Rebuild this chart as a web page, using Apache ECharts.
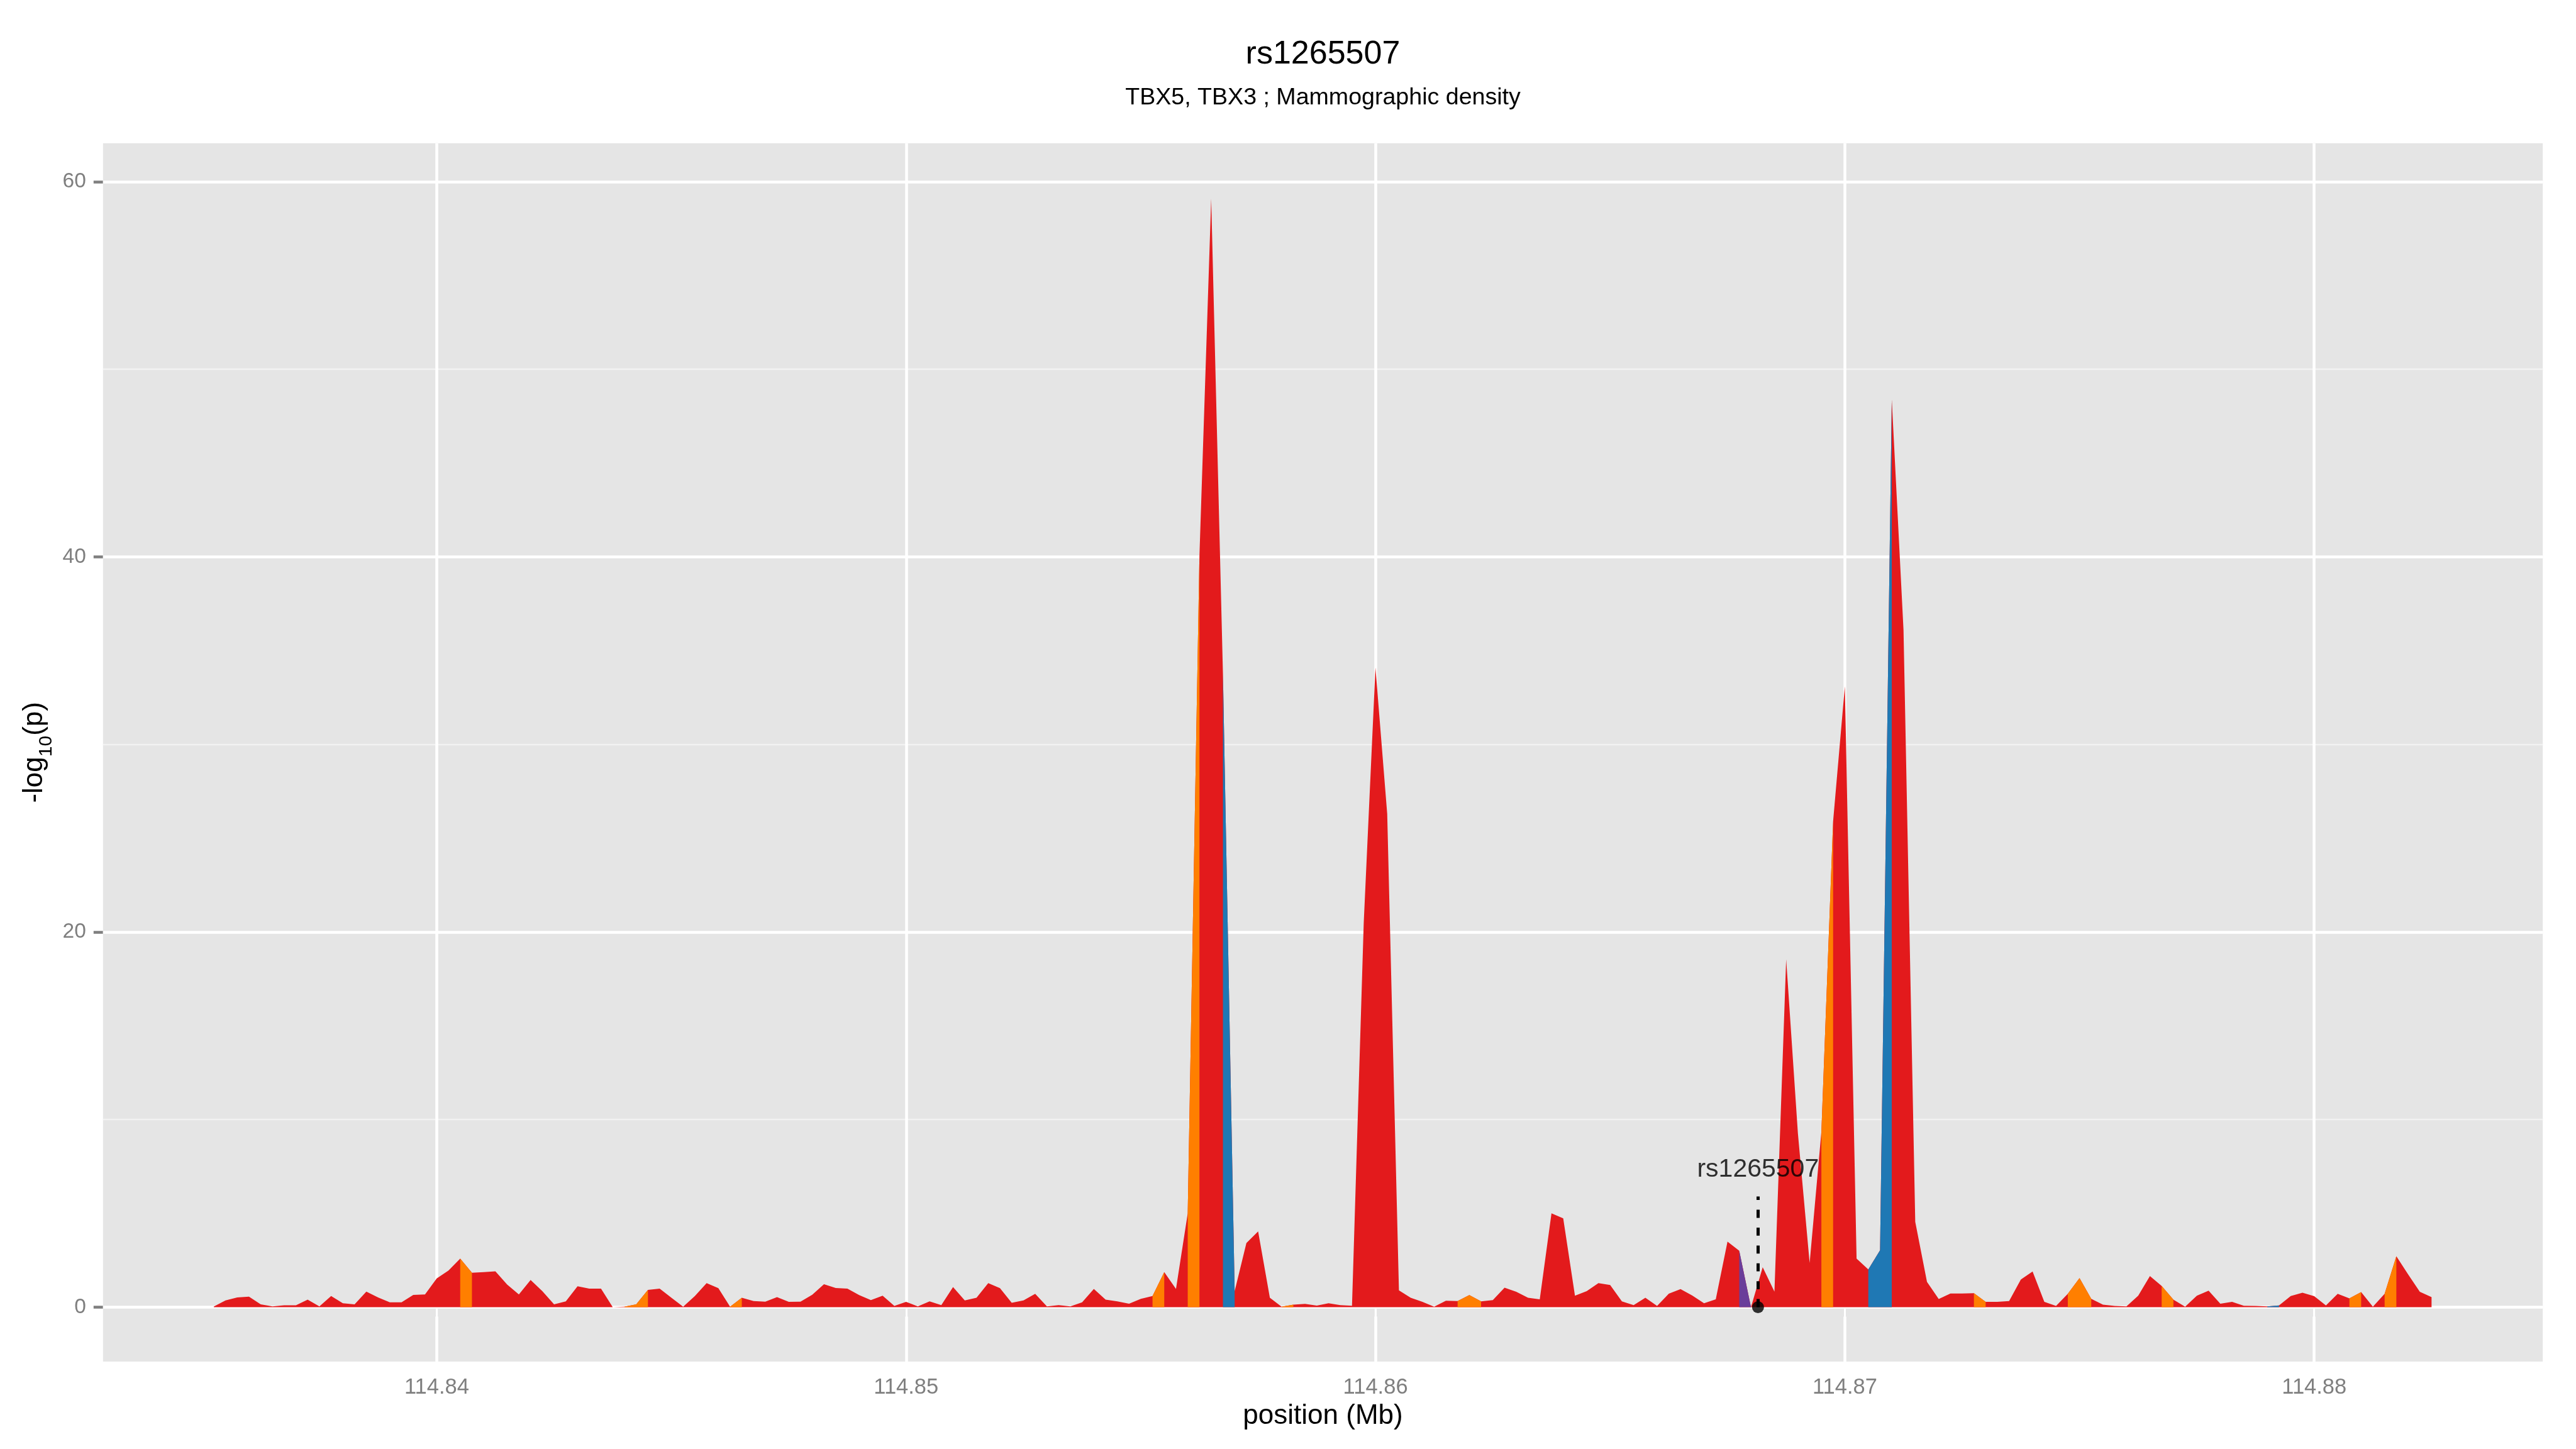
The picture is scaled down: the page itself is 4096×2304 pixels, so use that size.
<!DOCTYPE html>
<html>
<head>
<meta charset="utf-8">
<script src="https://cdn.jsdelivr.net/npm/echarts@6.0.0/dist/echarts.min.js"></script>
<style>
  html, body { margin: 0; padding: 0; background: #fff; }
  #chart { width: 4096px; height: 2304px; }
</style>
</head>
<body>
<div id="chart"></div>
<script>
// SNP positions (Mb), 250 bp apart
const posMb = [
  114.83525, 114.8355, 114.83575,
  114.836, 114.83625, 114.8365, 114.83675,
  114.837, 114.83725, 114.8375, 114.83775,
  114.838, 114.83825, 114.8385, 114.83875,
  114.839, 114.83925, 114.8395, 114.83975,
  114.840, 114.84025, 114.8405, 114.84075,
  114.841, 114.84125, 114.8415, 114.84175,
  114.842, 114.84225, 114.8425, 114.84275,
  114.843, 114.84325, 114.8435, 114.84375,
  114.844, 114.84425, 114.8445, 114.84475,
  114.845, 114.84525, 114.8455, 114.84575,
  114.846, 114.84625, 114.8465, 114.84675,
  114.847, 114.84725, 114.8475, 114.84775,
  114.848, 114.84825, 114.8485, 114.84875,
  114.849, 114.84925, 114.8495, 114.84975,
  114.850, 114.85025, 114.8505, 114.85075,
  114.851, 114.85125, 114.8515, 114.85175,
  114.852, 114.85225, 114.8525, 114.85275,
  114.853, 114.85325, 114.8535, 114.85375,
  114.854, 114.85425, 114.8545, 114.85475,
  114.855, 114.85525, 114.8555, 114.85575,
  114.856, 114.85625, 114.8565, 114.85675,
  114.857, 114.85725, 114.8575, 114.85775,
  114.858, 114.85825, 114.8585, 114.85875,
  114.859, 114.85925, 114.8595, 114.85975,
  114.860, 114.86025, 114.8605, 114.86075,
  114.861, 114.86125, 114.8615, 114.86175,
  114.862, 114.86225, 114.8625, 114.86275,
  114.863, 114.86325, 114.8635, 114.86375,
  114.864, 114.86425, 114.8645, 114.86475,
  114.865, 114.86525, 114.8655, 114.86575,
  114.866, 114.86625, 114.8665, 114.86675,
  114.867, 114.86725, 114.8675, 114.86775,
  114.868, 114.86825, 114.8685, 114.86875,
  114.869, 114.86925, 114.8695, 114.86975,
  114.870, 114.87025, 114.8705, 114.87075,
  114.871, 114.87125, 114.8715, 114.87175,
  114.872, 114.87225, 114.8725, 114.87275,
  114.873, 114.87325, 114.8735, 114.87375,
  114.874, 114.87425, 114.8745, 114.87475,
  114.875, 114.87525, 114.8755, 114.87575,
  114.876, 114.87625, 114.8765, 114.87675,
  114.877, 114.87725, 114.8775, 114.87775,
  114.878, 114.87825, 114.8785, 114.87875,
  114.879, 114.87925, 114.8795, 114.87975,
  114.880, 114.88025, 114.8805, 114.88075,
  114.881, 114.88125, 114.8815, 114.88175,
  114.882, 114.88225, 114.8825
];

// -log10(p) at each position
const logP = [
  0.03, 0.36, 0.52,
  0.56, 0.15, 0.04, 0.10,
  0.10, 0.40, 0.04, 0.59,
  0.21, 0.15, 0.83, 0.52,
  0.26, 0.26, 0.65, 0.68,
  1.53, 1.95, 2.59, 1.83,
  1.87, 1.91, 1.20, 0.68,
  1.45, 0.85, 0.15, 0.31,
  1.11, 0.99, 0.99, 0.00,
  0.02, 0.15, 0.92, 0.99,
  0.50, 0.02, 0.59, 1.28,
  1.01, 0.02, 0.50, 0.32,
  0.29, 0.53, 0.28, 0.29,
  0.66, 1.22, 1.02, 0.99,
  0.64, 0.37, 0.61, 0.06,
  0.28, 0.04, 0.31, 0.11,
  1.07, 0.36, 0.50, 1.28,
  1.01, 0.23, 0.36, 0.71,
  0.04, 0.11, 0.04, 0.26,
  0.97, 0.40, 0.31, 0.18,
  0.44, 0.59, 1.87, 0.97,
  5.00, 40.1, 59.1, 33.8,
  0.85, 3.42, 4.04, 0.50,
  0.02, 0.13, 0.17, 0.08,
  0.21, 0.11, 0.07, 20.5,
  34.1, 26.3, 0.89, 0.50,
  0.28, 0.02, 0.34, 0.32,
  0.64, 0.31, 0.37, 1.04,
  0.82, 0.50, 0.42, 5.00,
  4.73, 0.61, 0.85, 1.28,
  1.18, 0.31, 0.11, 0.50,
  0.06, 0.72, 0.96, 0.62,
  0.21, 0.42, 3.49, 3.01,
  0.00, 2.13, 0.83, 18.55,
  9.27, 2.35, 9.34, 25.9,
  33.1, 2.59, 2.01, 3.03,
  48.4, 36.1, 4.55, 1.35,
  0.43, 0.73, 0.73, 0.74,
  0.28, 0.28, 0.32, 1.47,
  1.90, 0.28, 0.06, 0.71,
  1.55, 0.44, 0.13, 0.06,
  0.04, 0.61, 1.66, 1.13,
  0.40, 0.02, 0.61, 0.88,
  0.18, 0.28, 0.07, 0.06,
  0.04, 0.09, 0.59, 0.77,
  0.58, 0.09, 0.71, 0.47,
  0.80, 0.02, 0.71, 2.71,
  1.75, 0.82, 0.53
];

// LD bins: index of the point where each coloured stretch starts (rest is red)
const ldOrange = [21, 35, 36, 44, 80, 83, 91, 106, 107, 137, 150, 158, 159, 166, 182, 185];
const ldBlue = [86, 141, 142, 175];
const ldPurple = [130];

const snpName = 'rs1265507';
const snpPos = 114.86815;
const snpLineTop = 5.9;
const snpLabelY = 7.35;

const xTicks = [114.84, 114.85, 114.86, 114.87, 114.88];
const xMinor = [114.835, 114.845, 114.855, 114.865, 114.875];
const yTicks = [0, 20, 40, 60];
const yMinor = [10, 30, 50];

const RED = '#E31A1C', ORANGE = '#FF7F00', BLUE = '#1F78B4', PURPLE = '#6A3D9A';
const FONT = 'Liberation Sans';

function stretch(starts) {
  let out = [];
  starts.forEach((k, i) => {
    let joined = i > 0 && starts[i - 1] === k - 1;
    if (!joined) {
      if (i > 0) out.push([posMb[k], '-']);
      out.push([posMb[k], logP[k]]);
    }
    out.push([posMb[k + 1], logP[k + 1]]);
  });
  return out;
}

function areaSeries(name, data, color, z) {
  return {
    name: name,
    type: 'line',
    data: data,
    symbol: 'none',
    z: z,
    lineStyle: { width: 0, opacity: 0 },
    areaStyle: { color: color, opacity: 1 },
    emphasis: { disabled: true },
    silent: true
  };
}

let gridLines = [];
xMinor.forEach(v => gridLines.push({ xAxis: v, lineStyle: { color: '#F2F2F2', width: 2.3, type: 'solid' } }));
yMinor.forEach(v => gridLines.push({ yAxis: v, lineStyle: { color: '#F2F2F2', width: 2.3, type: 'solid' } }));
xTicks.forEach(v => gridLines.push({ xAxis: v, lineStyle: { color: '#FFFFFF', width: 4.5, type: 'solid' } }));
yTicks.forEach(v => gridLines.push({ yAxis: v, lineStyle: { color: '#FFFFFF', width: 4.5, type: 'solid' } }));

let red = areaSeries('r2 < 0.2', posMb.map((x, i) => [x, logP[i]]), RED, 2);
red.markLine = {
  z: 1,
  silent: true,
  animation: false,
  symbol: ['none', 'none'],
  label: { show: false },
  emphasis: { disabled: true },
  data: gridLines
};

let option = {
  animation: false,
  backgroundColor: '#FFFFFF',
  textStyle: { fontFamily: FONT },
  title: [
    {
      text: snpName,
      left: 2103.5,
      top: 61,
      textAlign: 'center',
      padding: 0,
      textStyle: { fontSize: 52, fontWeight: 'normal', color: '#000', fontFamily: FONT }
    },
    {
      text: 'TBX5, TBX3 ; Mammographic density',
      left: 2103.5,
      top: 137,
      textAlign: 'center',
      padding: 0,
      textStyle: { fontSize: 37.6, fontWeight: 'normal', color: '#000', fontFamily: FONT }
    }
  ],
  grid: {
    left: 163.8,
    right: 52.8,
    top: 227.8,
    bottom: 139.1,
    show: true,
    backgroundColor: '#E5E5E5',
    borderWidth: 0,
    containLabel: false
  },
  xAxis: {
    type: 'value',
    min: 114.83289,
    max: 114.88487,
    name: 'position (Mb)',
    nameLocation: 'middle',
    nameGap: 65,
    nameTextStyle: { fontSize: 44, color: '#000', fontFamily: FONT },
    axisLine: { show: false },
    splitLine: { show: false },
    axisTick: {
      show: true,
      customValues: xTicks,
      length: 15,
      lineStyle: { color: '#7F7F7F', width: 4.5 }
    },
    axisLabel: {
      customValues: xTicks,
      formatter: v => v.toFixed(2),
      fontSize: 34.5,
      color: '#7F7F7F',
      margin: 24
    }
  },
  yAxis: {
    type: 'value',
    min: -2.9,
    max: 62.05,
    name: '{m|-log}{s|10}{m|(p)}',
    nameLocation: 'middle',
    nameRotate: 90,
    nameGap: 70,
    nameTextStyle: {
      rich: {
        m: { fontSize: 44, lineHeight: 56, verticalAlign: 'top', color: '#000', fontFamily: FONT },
        s: { fontSize: 30, lineHeight: 30, verticalAlign: 'bottom', color: '#000', fontFamily: FONT }
      }
    },
    axisLine: { show: false },
    splitLine: { show: false },
    axisTick: {
      show: true,
      customValues: yTicks,
      length: 15,
      lineStyle: { color: '#7F7F7F', width: 4.5 }
    },
    axisLabel: {
      customValues: yTicks,
      fontSize: 33.5,
      color: '#7F7F7F',
      margin: 27
    }
  },
  series: [
    red,
    areaSeries('0.2-0.5', stretch(ldOrange), ORANGE, 3),
    areaSeries('0.5-0.8', stretch(ldBlue), BLUE, 3),
    areaSeries('index', stretch(ldPurple), PURPLE, 3),
    {
      name: snpName,
      type: 'scatter',
      data: [[snpPos, 0]],
      symbol: 'circle',
      symbolSize: 19,
      itemStyle: { color: '#000' },
      z: 5,
      silent: true,
      markLine: {
        z: 4,
        silent: true,
        animation: false,
        symbol: ['none', 'none'],
        label: { show: false },
        emphasis: { disabled: true },
        lineStyle: { color: '#000', width: 5, type: [12.8, 15.6] },
        data: [[{ coord: [snpPos, 0] }, { coord: [snpPos, snpLineTop] }]]
      }
    },
    {
      name: 'label',
      type: 'scatter',
      data: [[snpPos, snpLabelY]],
      symbolSize: 1,
      itemStyle: { color: 'rgba(0,0,0,0)' },
      z: 6,
      silent: true,
      label: {
        show: true,
        position: 'inside',
        formatter: snpName,
        fontSize: 41,
        color: '#000',
        fontFamily: FONT
      }
    }
  ]
};

let myChart = echarts.init(document.getElementById('chart'));
myChart.setOption(option);
</script>
</body>
</html>
